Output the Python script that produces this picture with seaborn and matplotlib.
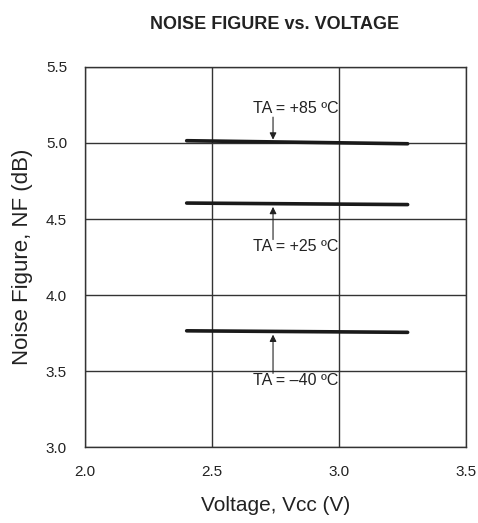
import matplotlib
matplotlib.use("Agg")
import matplotlib.pyplot as plt
import seaborn as sns
import pandas as pd

# Data
voltage = [2.4, 3.27]
nf_85 = [5.015, 4.995]
nf_25 = [4.605, 4.595]
nf_m40 = [3.765, 3.755]
series_names = ["+85", "+25", "-40"]
labels = ["TA = +85 ºC", "TA = +25 ºC", "TA = –40 ºC"]
x_ticks = [2.0, 2.5, 3.0, 3.5]
y_ticks = [3.0, 3.5, 4.0, 4.5, 5.0, 5.5]

rows = []
for name, vals in zip(series_names, [nf_85, nf_25, nf_m40]):
    for v, n in zip(voltage, vals):
        rows.append({"V": v, "NF": n, "T": name})
df = pd.DataFrame(rows)

sns.set_style("white")
plt.rcParams["font.family"] = ["Liberation Sans", "DejaVu Sans"]

fig = plt.figure(figsize=(4.78, 5.23), dpi=100)
ax = fig.add_axes([0.178, 0.145, 0.797, 0.727])

sns.lineplot(data=df, x="V", y="NF", hue="T", palette=["#1a1a1a"] * 3,
             linewidth=2.6, legend=False, ax=ax)

ax.set_xlim(2.0, 3.5)
ax.set_ylim(3.0, 5.5)
ax.set_xticks(x_ticks)
ax.set_yticks(y_ticks)
ax.set_xticklabels([f"{t:.1f}" for t in x_ticks], fontsize=11, color="#222222")
ax.set_yticklabels([f"{t:.1f}" for t in y_ticks], fontsize=11, color="#222222")
ax.tick_params(axis="x", length=0, pad=13)
ax.tick_params(axis="y", length=0, pad=13)
ax.grid(True, color="#333333", linewidth=1.0)
for s in ax.spines.values():
    s.set_visible(True)
    s.set_color("#333333")
    s.set_linewidth(1.0)

ax.set_xlabel("Voltage, Vcc (V)", fontsize=15, labelpad=12, color="#222222")
ax.set_ylabel("Noise Figure, NF (dB)", fontsize=16, labelpad=9, color="#222222")

fig.suptitle("NOISE FIGURE vs. VOLTAGE", x=0.575, y=0.97, fontsize=13,
             fontweight="bold", color="#222222")

arrow_x = 2.74
text_x = 2.83
ann = [
    (labels[0], 5.01, 5.23, "down"),
    (labels[1], 4.6, 4.32, "up"),
    (labels[2], 3.76, 3.44, "up"),
]
for text, y_line, y_text, d in ann:
    if d == "down":
        ax.annotate("", xy=(arrow_x, y_line + 0.012), xytext=(arrow_x, y_text - 0.06),
                    arrowprops=dict(arrowstyle="-|>", color="#222222", lw=0.8,
                                    mutation_scale=10, shrinkA=0, shrinkB=0))
    else:
        ax.annotate("", xy=(arrow_x, y_line - 0.02), xytext=(arrow_x, y_text + 0.045),
                    arrowprops=dict(arrowstyle="-|>", color="#222222", lw=0.8,
                                    mutation_scale=10, shrinkA=0, shrinkB=0))
    ax.text(text_x, y_text, text, fontsize=11.5, ha="center", va="center",
            color="#222222")

fig.savefig("out.png", dpi=100)
